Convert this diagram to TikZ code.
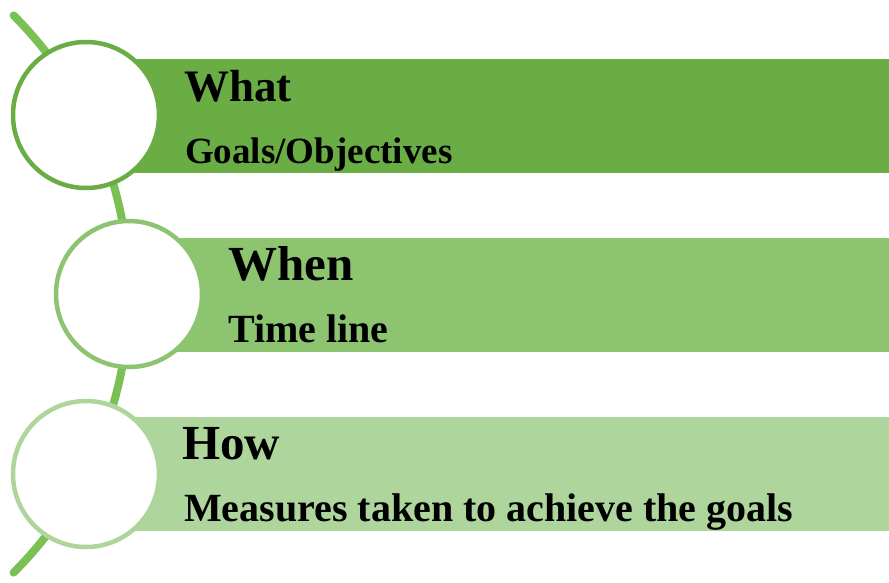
\documentclass[tikz,border=0pt]{standalone}
\usepackage{fontspec}
\setmainfont{Liberation Serif}
\definecolor{leafdark}{RGB}{106,173,69}
\definecolor{leafmid}{RGB}{141,196,112}
\definecolor{leaflight}{RGB}{174,214,156}
\definecolor{stem}{RGB}{122,193,85}
\begin{document}
\begin{tikzpicture}[x=1pt, y=-1pt,
bar/.style = {rectangle, anchor=north west, minimum width=769pt, minimum height=114pt, inner sep=0},
ring/.style = {circle, fill=white, line width=4.5pt, minimum size=146pt, inner sep=0},
head/.style = {anchor=base west, inner sep=0, font=\fontsize{49}{49}\selectfont\bfseries},
sub/.style = {anchor=base west, inner sep=0, font=\fontsize{40}{40}\selectfont\bfseries}]
\useasboundingbox (0,0) rectangle (889,582);
% bars
\node[bar, fill=leafdark] at (120,59) (b1) {};
\node[bar, fill=leafmid] at (120,238) (b2) {};
\node[bar, fill=leaflight] at (120,417) (b3) {};
% stem through the rings
\coordinate (top) at (13.6,15.4);
\draw [stem, line width=8pt, line cap=round] (top) arc[start angle=-45, end angle=45, radius=394];
\node[ring, draw=leafdark] at (86,115) (r1) {};
\node[ring, draw=leafmid] at (129,294) (r2) {};
\node[ring, draw=leaflight] at (86,474) (r3) {};
% labels
\node[head, font=\fontsize{45}{45}\selectfont\bfseries] at (184,101) (what) {What};
\node[sub, font=\fontsize{37}{37}\selectfont\bfseries] at (185,163) (goals) {Goals/Objectives};
\node[head] at (228,280) (when) {When};
\node[sub] at (228,342) (time) {Time line};
\node[head] at (182,459) (how) {How};
\node[sub] at (184,521) (measures) {Measures taken to achieve the goals};
\end{tikzpicture}
\end{document}
